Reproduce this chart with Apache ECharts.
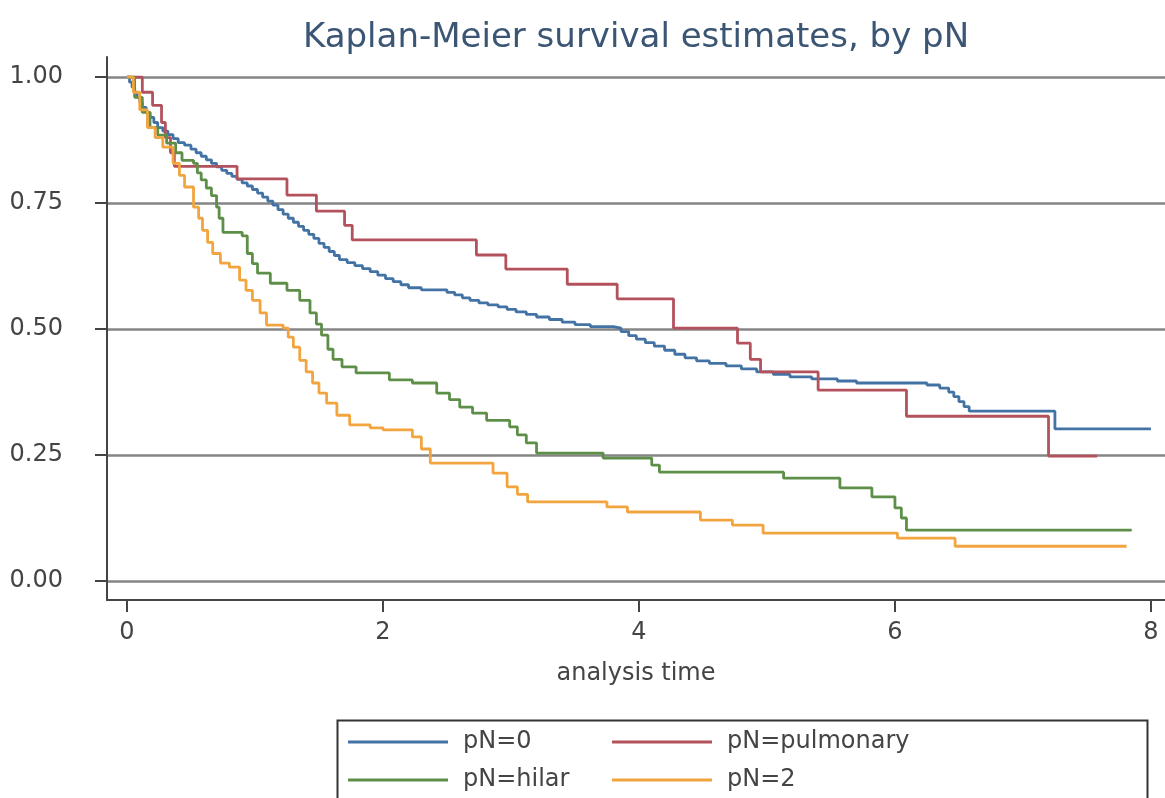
<!doctype html>
<html lang="en">
<head>
    <meta charset="UTF-8">
    <title>Kaplan-Meier survival estimates, by pN</title>
</head>
<body style="margin:0">
    <script src="https://cdn.jsdelivr.net/npm/echarts@6/dist/echarts.min.js"></script>
    <div id="km" style="width: 1165px; height: 798px"></div>

    <script>
        // survival steps: [analysis time, survival]
        var pN0 = [
            [0, 1], [0.02, 0.99], [0.04, 0.98], [0.06, 0.97], [0.08, 0.96], [0.1, 0.95], [0.12, 0.94],
            [0.15, 0.93], [0.18, 0.92], [0.21, 0.91], [0.24, 0.9], [0.28, 0.893], [0.32, 0.886],
            [0.36, 0.878], [0.4, 0.87], [0.45, 0.865], [0.5, 0.857], [0.54, 0.85], [0.58, 0.843],
            [0.62, 0.836], [0.66, 0.829], [0.7, 0.822], [0.74, 0.815], [0.78, 0.809], [0.82, 0.803],
            [0.86, 0.797], [0.9, 0.79], [0.94, 0.784], [0.98, 0.777], [1.02, 0.77], [1.06, 0.762],
            [1.1, 0.754], [1.14, 0.746], [1.18, 0.737], [1.22, 0.728], [1.26, 0.72], [1.3, 0.712],
            [1.34, 0.704], [1.38, 0.696], [1.42, 0.688], [1.46, 0.68], [1.5, 0.67], [1.54, 0.662],
            [1.58, 0.654], [1.62, 0.646], [1.66, 0.638], [1.72, 0.632], [1.78, 0.626], [1.84, 0.62],
            [1.9, 0.614], [1.96, 0.607], [2.02, 0.6], [2.08, 0.594], [2.14, 0.588], [2.2, 0.582],
            [2.3, 0.578], [2.5, 0.573], [2.56, 0.568], [2.62, 0.562], [2.68, 0.557], [2.75, 0.552],
            [2.82, 0.548], [2.9, 0.544], [2.97, 0.539], [3.04, 0.534], [3.12, 0.529], [3.2, 0.524],
            [3.3, 0.519], [3.4, 0.514], [3.5, 0.509], [3.62, 0.505], [3.8, 0.502], [3.86, 0.495],
            [3.92, 0.487], [3.98, 0.48], [4.05, 0.473], [4.12, 0.466], [4.2, 0.458], [4.28, 0.45],
            [4.36, 0.443], [4.45, 0.437], [4.55, 0.432], [4.68, 0.427], [4.8, 0.421], [4.92, 0.415],
            [5.05, 0.41], [5.18, 0.405], [5.35, 0.401], [5.55, 0.397], [5.7, 0.393], [6.25, 0.389],
            [6.35, 0.383], [6.42, 0.375], [6.46, 0.366], [6.5, 0.356], [6.54, 0.346], [6.58, 0.337],
            [7.25, 0.302], [8.0, 0.302]
        ];
        var pNpulmonary = [
            [0, 1], [0.12, 0.97], [0.2, 0.944], [0.27, 0.91], [0.3, 0.88], [0.34, 0.85], [0.37, 0.823],
            [0.86, 0.798], [1.25, 0.766], [1.48, 0.734], [1.7, 0.706], [1.76, 0.677], [2.73, 0.647],
            [2.96, 0.619], [3.44, 0.589], [3.83, 0.56], [4.27, 0.502], [4.77, 0.472], [4.87, 0.44],
            [4.95, 0.415], [5.4, 0.379], [6.09, 0.327], [7.2, 0.248], [7.58, 0.248]
        ];
        var pNhilar = [
            [0, 1], [0.06, 0.96], [0.12, 0.93], [0.18, 0.9], [0.24, 0.885], [0.31, 0.869], [0.38, 0.85],
            [0.43, 0.835], [0.52, 0.829], [0.55, 0.81], [0.58, 0.796], [0.62, 0.78], [0.66, 0.765],
            [0.7, 0.742], [0.72, 0.72], [0.75, 0.692], [0.9, 0.685], [0.94, 0.65], [0.98, 0.63],
            [1.02, 0.611], [1.12, 0.591], [1.25, 0.577], [1.35, 0.557], [1.43, 0.532], [1.48, 0.51],
            [1.52, 0.488], [1.57, 0.46], [1.61, 0.44], [1.68, 0.425], [1.79, 0.413], [2.05, 0.399],
            [2.23, 0.393], [2.42, 0.373], [2.52, 0.36], [2.6, 0.345], [2.7, 0.333], [2.81, 0.319],
            [2.99, 0.306], [3.05, 0.29], [3.12, 0.274], [3.2, 0.254], [3.72, 0.244], [4.1, 0.23],
            [4.16, 0.216], [5.13, 0.204], [5.57, 0.185], [5.82, 0.167], [6.0, 0.145], [6.05, 0.125],
            [6.09, 0.101], [7.85, 0.101]
        ];
        var pN2 = [
            [0, 1], [0.05, 0.97], [0.1, 0.935], [0.16, 0.9], [0.22, 0.88], [0.28, 0.861], [0.36, 0.829],
            [0.41, 0.805], [0.45, 0.782], [0.52, 0.742], [0.56, 0.72], [0.59, 0.696], [0.63, 0.672],
            [0.67, 0.65], [0.73, 0.631], [0.8, 0.623], [0.88, 0.597], [0.93, 0.577], [0.98, 0.557],
            [1.04, 0.532], [1.09, 0.508], [1.22, 0.502], [1.26, 0.484], [1.3, 0.464], [1.35, 0.438],
            [1.4, 0.415], [1.45, 0.393], [1.5, 0.373], [1.56, 0.353], [1.64, 0.329], [1.74, 0.31],
            [1.9, 0.304], [2.0, 0.3], [2.23, 0.286], [2.3, 0.262], [2.37, 0.234], [2.86, 0.214],
            [2.97, 0.187], [3.05, 0.172], [3.13, 0.157], [3.75, 0.147], [3.91, 0.137], [4.48, 0.121],
            [4.73, 0.111], [4.97, 0.095], [6.02, 0.085], [6.47, 0.069], [7.81, 0.069]
        ];

        var xTicks = [0, 2, 4, 6, 8];
        var yTicks = [0, 0.25, 0.5, 0.75, 1];
        var groups = ['pN=0', 'pN=pulmonary', 'pN=hilar', 'pN=2'];
        var colors = ['#4373a5', '#b3525d', '#5d8f49', '#f2a43e'];
        var curves = [pN0, pNpulmonary, pNhilar, pN2];

        var font = 'DejaVu Sans';
        var legendSpots = [[348, 730], [612, 730], [348, 768], [612, 768]];

        var option = {
            animation: false,
            backgroundColor: '#fff',
            title: {
                text: 'Kaplan-Meier survival estimates, by pN',
                left: 298,
                top: 16,
                textStyle: { fontFamily: font, fontSize: 34, fontWeight: 'normal', color: '#3b5675' }
            },
            grid: { left: 107, right: 0, top: 57, bottom: 198 },
            xAxis: {
                type: 'value',
                min: -0.156,
                max: 8.11,
                name: 'analysis time',
                nameLocation: 'middle',
                nameGap: 62,
                nameTextStyle: { fontFamily: font, fontSize: 24, color: '#444' },
                axisLine: { show: true, onZero: false, lineStyle: { color: '#444', width: 2 } },
                axisTick: { show: true, length: 12, customValues: xTicks, lineStyle: { color: '#444', width: 2 } },
                axisLabel: { customValues: xTicks, margin: 21, fontFamily: font, fontSize: 24, color: '#444' },
                splitLine: { show: false }
            },
            yAxis: {
                type: 'value',
                min: -0.0377,
                max: 1.04,
                axisLine: { show: true, onZero: false, lineStyle: { color: '#444', width: 2 } },
                axisTick: { show: true, length: 12, customValues: yTicks, lineStyle: { color: '#444', width: 2 } },
                axisLabel: {
                    customValues: yTicks, margin: 44, fontFamily: font, fontSize: 24, color: '#444',
                    formatter: function (v) { return v.toFixed(2); }
                },
                splitLine: { show: true, lineStyle: { color: '#858585', width: 2.5 } }
            },
            legend: groups.map(function (g, i) {
                return {
                    data: [g],
                    left: legendSpots[i][0],
                    top: legendSpots[i][1],
                    padding: 0,
                    itemWidth: 100,
                    itemHeight: 3,
                    icon: 'rect',
                    textStyle: { fontFamily: font, fontSize: 24, color: '#444', padding: [0, 0, 0, 10] }
                };
            }),
            graphic: [{
                type: 'rect',
                left: 335,
                top: 718,
                shape: { width: 810, height: 100 },
                style: { fill: 'none', stroke: '#333', lineWidth: 2 },
                silent: true
            }],
            series: groups.map(function (g, i) {
                return {
                    name: g,
                    type: 'line',
                    step: 'end',
                    data: curves[i],
                    showSymbol: false,
                    color: colors[i],
                    lineStyle: { width: 2.8 }
                };
            })
        };

        var chart = echarts.init(document.getElementById('km'));
        chart.setOption(option);
    </script>
</body>
</html>
